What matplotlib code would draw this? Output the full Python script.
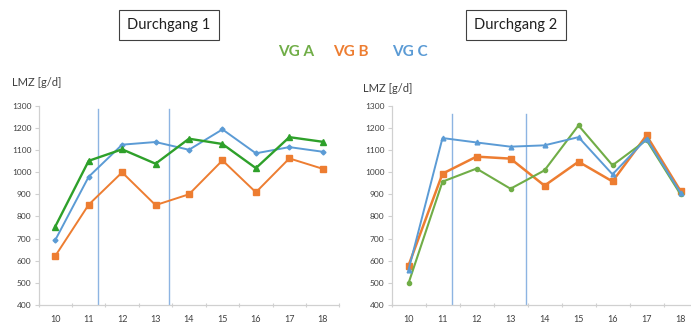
import matplotlib
matplotlib.use("Agg")
import matplotlib.pyplot as plt
import numpy as np

plt.rcParams['font.family'] = ['Lato', 'DejaVu Sans']

weeks = ['10', '11', '12', '13', '14', '15', '16', '17', '18']

# Durchgang 1
d1_vg_a = [754, 1051, 1103, 1038, 1151, 1127, 1018, 1158, 1137]
d1_vg_b = [621, 853, 999, 851, 900, 1053, 909, 1062, 1015]
d1_vg_c = [693, 979, 1124, 1136, 1101, 1193, 1085, 1113, 1092]
d1_markers = [11.29, 13.40]

# Durchgang 2
d2_vg_a = [498, 957, 1016, 925, 1008, 1211, 1031, 1145, 900]
d2_vg_b = [578, 993, 1070, 1061, 939, 1047, 958, 1166, 915]
d2_vg_c = [558, 1154, 1134, 1115, 1121, 1158, 990, 1151, 907]
d2_markers = [11.28, 13.46]

yticks = [400, 500, 600, 700, 800, 900, 1000, 1100, 1200, 1300]

green_dark = '#2ea02a'
green = '#70ad47'
orange = '#ed7d31'
blue = '#5b9bd5'
vline = '#8db4e2'
axis_col = '#d0d0d0'
text_col = '#404040'

fig = plt.figure(figsize=(6.91, 3.24), dpi=100)

ax1 = fig.add_axes([38.5 / 691, 1 - 305 / 324, 301 / 691, 199.3 / 324])
ax2 = fig.add_axes([391.5 / 691, 1 - 305 / 324, 306 / 691, 199.3 / 324])

x = np.arange(10, 19)


def style(ax, markers, top):
    ax.set_xlim(9.5, 18.5)
    ax.set_ylim(400, 1300)
    ax.set_yticks(yticks)
    ax.set_yticklabels([str(v) for v in yticks], fontsize=6, color=text_col)
    ax.set_xticks(x)
    ax.set_xticklabels(weeks, fontsize=6.5, color=text_col)
    ax.set_xticks(np.arange(9.5, 18.6, 1), minor=True)
    ax.tick_params(axis='x', which='major', length=0, pad=7)
    ax.tick_params(axis='x', which='minor', length=3, direction='inout',
                   color=axis_col, width=0.8)
    ax.tick_params(axis='y', length=3, color=axis_col, width=0.8, pad=2)
    for s in ['top', 'right']:
        ax.spines[s].set_visible(False)
    for s in ['left', 'bottom']:
        ax.spines[s].set_color(axis_col)
        ax.spines[s].set_linewidth(0.9)
    for m in markers:
        ax.axvline(m, ymin=0, ymax=top, color=vline, lw=1.0, zorder=1)


style(ax1, d1_markers, 0.985)
style(ax2, d2_markers, 0.96)

ax1.plot(x, d1_vg_b, color=orange, lw=1.4, marker='s', ms=3.8, zorder=3)
ax1.plot(x, d1_vg_c, color=blue, lw=1.4, marker='D', ms=2.5, zorder=3)
ax1.plot(x, d1_vg_a, color=green_dark, lw=1.7, marker='^', ms=4.2, zorder=4)

ax2.plot(x, d2_vg_b, color=orange, lw=1.8, marker='s', ms=4.2, zorder=3)
ax2.plot(x, d2_vg_a, color=green, lw=1.5, marker='o', ms=3.0, zorder=3)
ax2.plot(x, d2_vg_c, color=blue, lw=1.4, marker='^', ms=3.4, zorder=4)

fig.text(12 / 691, 1 - 83 / 324, 'LMZ [g/d]', fontsize=8, color=text_col,
         va='center', ha='left')
fig.text(363 / 691, 1 - 89 / 324, 'LMZ [g/d]', fontsize=8, color=text_col,
         va='center', ha='left')

box = dict(boxstyle='square,pad=0.55', fc='white', ec='#404040', lw=0.8)
fig.text(169 / 691, 1 - 25 / 324, 'Durchgang 1', fontsize=10.5, color='#202020',
         ha='center', va='center', bbox=box)
fig.text(516 / 691, 1 - 25 / 324, 'Durchgang 2', fontsize=10.5, color='#202020',
         ha='center', va='center', bbox=box)

fig.text(296 / 691, 1 - 52 / 324, 'VG A', fontsize=11, color=green,
         fontweight='bold', ha='center', va='center')
fig.text(351 / 691, 1 - 52 / 324, 'VG B', fontsize=11, color=orange,
         fontweight='bold', ha='center', va='center')
fig.text(410 / 691, 1 - 52 / 324, 'VG C', fontsize=11, color=blue,
         fontweight='bold', ha='center', va='center')

fig.savefig('out.png', dpi=100)
